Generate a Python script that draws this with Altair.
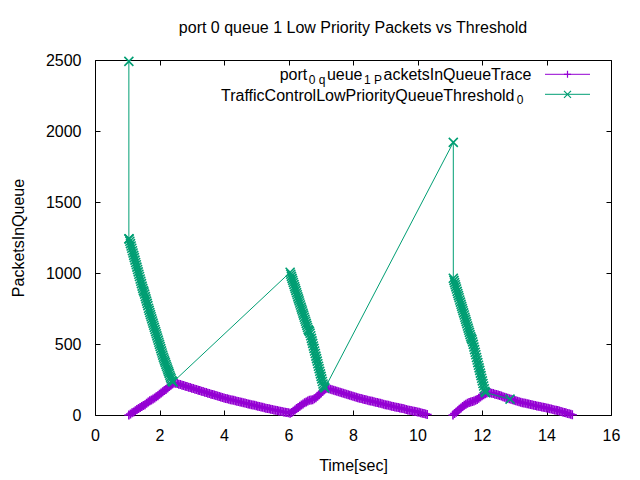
import altair as alt
import pandas as pd

FONT = "Liberation Sans"
PURPLE = "#9400d3"
GREEN = "#009e73"

TITLE = "port 0 queue 1 Low Priority Packets vs Threshold"
X_TITLE = "Time[sec]"
Y_TITLE = "PacketsInQueue"
X_TICKS = [0, 2, 4, 6, 8, 10, 12, 14, 16]
Y_TICKS = [0, 500, 1000, 1500, 2000, 2500]

# ---- port_0_queue_1_PacketsInQueueTrace: run 1 (1.05 .. 10.30 s)
q_run1_t = [1.05, 1.10, 1.15, 1.20, 1.25, 1.30, 1.35, 1.40, 1.45, 1.50, 1.55, 1.60, 1.65, 1.70,
            1.75, 1.80, 1.85, 1.90, 1.95, 2.00, 2.05, 2.10, 2.15, 2.20, 2.25, 2.30, 2.35, 2.40, 2.45,
            2.50, 2.55, 2.60, 2.65, 2.70, 2.75, 2.80, 2.85, 2.90, 2.95, 3.00, 3.05, 3.10, 3.15,
            3.20, 3.25, 3.30, 3.35, 3.40, 3.45, 3.50, 3.55, 3.60, 3.65, 3.70, 3.75, 3.80, 3.85,
            3.90, 3.95, 4.00, 4.05, 4.10, 4.15, 4.20, 4.25, 4.30, 4.35, 4.40, 4.45, 4.50, 4.55,
            4.60, 4.65, 4.70, 4.75, 4.80, 4.85, 4.90, 4.95, 5.00, 5.05, 5.10, 5.15, 5.20, 5.25,
            5.30, 5.35, 5.40, 5.45, 5.50, 5.55, 5.60, 5.65, 5.70, 5.75, 5.80, 5.85, 5.90, 5.95,
            6.00, 6.05,
            6.10, 6.15, 6.20, 6.25, 6.30, 6.35, 6.40, 6.45, 6.50, 6.55, 6.60, 6.65, 6.70, 6.75,
            6.80, 6.85, 6.90, 6.95, 7.00, 7.05, 7.10, 7.15, 7.20,
            7.25, 7.30, 7.35, 7.40, 7.45, 7.50, 7.55, 7.60, 7.65, 7.70, 7.75, 7.80, 7.85, 7.90,
            7.95, 8.00, 8.05, 8.10, 8.15, 8.20, 8.25, 8.30, 8.35, 8.40, 8.45, 8.50, 8.55, 8.60,
            8.65, 8.70, 8.75, 8.80, 8.85, 8.90, 8.95, 9.00, 9.05, 9.10, 9.15, 9.20, 9.25, 9.30,
            9.35, 9.40, 9.45, 9.50, 9.55, 9.60, 9.65, 9.70, 9.75, 9.80, 9.85, 9.90, 9.95, 10.00,
            10.05, 10.10, 10.15, 10.20, 10.25, 10.30]
q_run1_v = [0, 7, 15, 22, 30, 38, 45, 52, 59, 67, 73, 82, 92, 100,
            106, 112, 120, 128, 136, 146, 155, 164, 172, 180, 190, 200, 210, 218, 226,
            224, 221, 217, 214, 210, 207, 203, 200, 196, 193, 189, 186, 182, 179,
            175, 172, 168, 165, 161, 158, 154, 151, 147, 144, 140, 137, 133, 130,
            126, 123, 119, 117, 114, 111, 108, 106, 103, 100, 97, 95, 92, 89,
            86, 84, 81, 78, 76, 73, 70, 68, 65, 62, 59, 57, 54, 51,
            48, 46, 44, 41, 39, 36, 34, 31, 29, 26, 24, 22, 20, 17,
            15, 12,
            18, 27, 36, 45, 53, 62, 70, 78, 86, 92, 98, 104, 106, 108,
            114, 122, 132, 143, 154, 166, 176, 184, 188,
            185, 182, 178, 175, 171, 168, 164, 161, 157, 153, 150, 146, 143, 139,
            136, 132, 129, 125, 122, 118, 116, 113, 110, 107, 104, 101, 99, 96,
            93, 90, 88, 85, 82, 79, 76, 73, 71, 68, 65, 62, 60, 57,
            55, 52, 50, 47, 45, 42, 39, 36, 34, 31, 29, 26, 24, 21,
            19, 16, 13, 10, 7, 4]
# ---- run 2 (11.10 .. 14.80 s)
q_run2_t = [11.10, 11.15, 11.20, 11.25, 11.30, 11.35, 11.40, 11.45, 11.50, 11.55, 11.60, 11.65,
            11.70, 11.75, 11.80, 11.85, 11.90, 11.95, 12.00, 12.05, 12.10, 12.15, 12.20,
            12.25, 12.30, 12.35, 12.40, 12.45, 12.50, 12.55, 12.60, 12.65, 12.70, 12.75, 12.80,
            12.85, 12.90, 12.95, 13.00, 13.05, 13.10, 13.15, 13.20, 13.25, 13.30, 13.35, 13.40,
            13.45, 13.50, 13.55, 13.60, 13.65, 13.70, 13.75, 13.80, 13.85, 13.90, 13.95, 14.00,
            14.05, 14.10, 14.15, 14.20, 14.25, 14.30, 14.35, 14.40, 14.45, 14.50, 14.55, 14.60,
            14.65, 14.70, 14.75, 14.80]
q_run2_v = [0, 10, 20, 30, 40, 50, 59, 68, 76, 82, 88, 92,
            95, 99, 104, 110, 118, 126, 135, 143, 150, 155, 158,
            156, 154, 151, 147, 144, 140, 137, 133, 129, 125, 122, 118,
            115, 111, 108, 104, 100, 96, 93, 89, 87, 84, 82, 79,
            77, 74, 72, 69, 67, 64, 62, 59, 57, 54, 52, 49,
            47, 44, 42, 39, 36, 33, 31, 28, 25, 22, 18, 15,
            11, 8, 5, 2]

# ---- TrafficControlLowPriorityQueueThreshold_0
th_t = [1.05, 1.05,
        1.06, 1.08, 1.10, 1.12, 1.14, 1.16, 1.18, 1.20, 1.22, 1.24, 1.26, 1.28, 1.30, 1.32,
        1.34, 1.36, 1.38, 1.40, 1.42, 1.44, 1.46, 1.48, 1.50, 1.52, 1.54, 1.56, 1.58, 1.60,
        1.62, 1.64, 1.66, 1.68, 1.70, 1.72, 1.74, 1.76, 1.78, 1.80, 1.82, 1.84, 1.86, 1.88,
        1.90, 1.92, 1.94, 1.96, 1.98, 2.00, 2.02, 2.04, 2.06, 2.08, 2.10, 2.12, 2.14, 2.16,
        2.18, 2.20, 2.22, 2.24, 2.26, 2.28, 2.30, 2.32, 2.34, 2.36, 2.38, 2.40, 2.42,
        6.05, 6.07, 6.09, 6.11, 6.13, 6.15, 6.17, 6.19, 6.21, 6.23, 6.25, 6.27, 6.29, 6.31,
        6.33, 6.35, 6.37, 6.39, 6.41, 6.43, 6.45, 6.47, 6.49, 6.51, 6.53, 6.55, 6.57, 6.59,
        6.61, 6.63, 6.65, 6.67, 6.69, 6.71, 6.73, 6.75, 6.77, 6.79, 6.81, 6.83, 6.85, 6.87,
        6.89, 6.91, 6.93, 6.95, 6.97, 6.99, 7.01, 7.03, 7.05, 7.07, 7.09, 7.11, 7.13,
        11.11, 11.11,
        11.13, 11.15, 11.17, 11.19, 11.21, 11.23, 11.25, 11.27, 11.29, 11.31, 11.33, 11.35,
        11.37, 11.39, 11.41, 11.43, 11.45, 11.47, 11.49, 11.51, 11.53, 11.55, 11.57, 11.59,
        11.61, 11.63, 11.65, 11.67, 11.69, 11.71, 11.73, 11.75, 11.77, 11.79, 11.81, 11.83,
        11.85, 11.87, 11.89, 11.91, 11.93, 11.95, 11.97, 11.99, 12.01, 12.03, 12.05, 12.07,
        12.09, 12.11, 12.87]
th_v = [2490, 1240,
        1240, 1224, 1207, 1190, 1174, 1157, 1141, 1124, 1108, 1091, 1074, 1058, 1041, 1025,
        1008, 991, 975, 958, 942, 925, 908, 892, 876, 866, 851, 834, 818, 802,
        786, 770, 752, 737, 722, 707, 692, 677, 662, 647, 632, 617, 602, 587,
        572, 557, 542, 527, 512, 497, 482, 467, 452, 437, 422, 407, 394, 381,
        369, 356, 343, 331, 318, 305, 293, 280, 267, 255, 242, 236, 232,
        1005, 991, 976, 962, 948, 933, 919, 904, 890, 876, 861, 847, 832, 818,
        804, 789, 775, 760, 746, 732, 717, 703, 688, 674, 660, 645, 631, 616,
        602, 595, 588, 576, 558, 540, 522, 504, 486, 469, 451, 433, 415, 397,
        379, 361, 343, 326, 308, 290, 272, 254, 236, 218, 204, 196, 190,
        1920, 963,
        948, 932, 917, 902, 887, 871, 856, 841, 826, 810, 795, 780,
        765, 749, 734, 719, 704, 688, 673, 658, 643, 627, 612, 597,
        582, 566, 551, 540, 530, 515, 497, 479, 460, 442, 424, 405,
        387, 369, 350, 332, 314, 295, 277, 259, 240, 222, 204, 185,
        167, 158, 112]

LEGEND_1 = [("port", "main"), ("0 q", "sub"), ("ueue", "main"), ("1 P", "sub"),
            ("acketsInQueueTrace", "main")]
LEGEND_2 = [("TrafficControlLowPriorityQueueThreshold", "main"), ("0", "sub")]

# ---------------------------------------------------------------- tables
queue_df = pd.DataFrame({
    "t": q_run1_t + q_run2_t,
    "v": q_run1_v + q_run2_v,
    "run": [1] * len(q_run1_t) + [2] * len(q_run2_t),
})
queue_df["i"] = range(len(queue_df))
th_df = pd.DataFrame({"t": th_t, "v": th_v})
th_df["i"] = range(len(th_df))

PLUS = "M-1,0L1,0M0,-1L0,1"
CROSS = "M-1,-1L1,1M-1,1L1,-1"
W, H = 516, 355
MSIZE = 81

xs = alt.Scale(domain=[0, 16], nice=False, zero=False)
ys = alt.Scale(domain=[0, 2500], nice=False)

common = dict(offset=-5, tickSize=5, domain=False, grid=False, labelFlush=False,
              labelOverlap=False, labelBound=False)
x_bottom = alt.Axis(orient="bottom", values=X_TICKS, title=X_TITLE, labelPadding=20,
                    labelBaseline="middle", format="d",
                    titleX=W / 2, titleY=55, titleAlign="center", titleBaseline="middle", **common)
y_left = alt.Axis(orient="left", values=Y_TICKS, title=Y_TITLE, labelPadding=14, format="d",
                  titleX=-82, titleY=H / 2, titleAngle=270, titleAlign="center",
                  titleBaseline="middle", **common)
x_top = alt.Axis(orient="top", values=X_TICKS, title=None, labels=False, **common)
y_right = alt.Axis(orient="right", values=Y_TICKS, title=None, labels=False, **common)

frame = alt.Chart(queue_df).mark_point(opacity=0).encode(
    x=alt.X("t:Q", scale=xs, axis=x_bottom), y=alt.Y("v:Q", scale=ys, axis=y_left))
mirror = alt.Chart(queue_df).mark_point(opacity=0).encode(
    x=alt.X("t:Q", scale=xs, axis=x_top), y=alt.Y("v:Q", scale=ys, axis=y_right))

def series(df, color, shape, detail=None):
    enc = dict(x=alt.X("t:Q", scale=xs, axis=None), y=alt.Y("v:Q", scale=ys, axis=None),
               order=alt.Order("i:Q"))
    if detail:
        enc["detail"] = detail
    line = alt.Chart(df).mark_line(color=color, strokeWidth=1).encode(**enc)
    pts = alt.Chart(df).mark_point(shape=shape, filled=False, color=color, size=MSIZE,
                                   strokeWidth=1.6, opacity=1).encode(
        x=alt.X("t:Q", scale=xs, axis=None), y=alt.Y("v:Q", scale=ys, axis=None))
    return [line, pts]

# ---------------------------------------------------------------- legend
CW = {"P": 667, "a": 556, "c": 500, "k": 500, "e": 556, "t": 278, "s": 500, "I": 278,
      "n": 556, "Q": 778, "u": 556, "T": 611, "r": 333, "o": 556, "p": 556, "q": 556,
      "f": 278, "i": 222, "C": 722, "l": 222, "L": 556, "w": 722, "y": 500, "h": 556,
      "d": 556, "0": 556, "1": 556, " ": 278}
SIZES = {"main": 16, "sub": 12}

def text_w(s, size):
    return sum(CW.get(ch, 556) for ch in s) * size / 1000.0

one = pd.DataFrame({"k": [0]})

def legend_line(pieces, right, base_y):
    gap = 1.5
    total = sum(text_w(s, SIZES[k]) for s, k in pieces) + gap * 2 * sum(1 for _, k in pieces if k == "sub")
    x = right - total
    layers = []
    for s, k in pieces:
        if k == "sub":
            x += gap
        layers.append(alt.Chart(one).mark_text(align="left", baseline="alphabetic", font=FONT,
                                               fontSize=SIZES[k], color="black").encode(
            x=alt.value(x), y=alt.value(base_y + (3.5 if k == "sub" else 0)), text=alt.value(s)))
        x += text_w(s, SIZES[k])
        if k == "sub":
            x += gap
    return layers

def legend_sample(color, shape, y):
    rule = alt.Chart(one).mark_rule(color=color, strokeWidth=1).encode(
        x=alt.value(450), x2=alt.value(495), y=alt.value(y))
    mk = alt.Chart(one).mark_point(shape=shape, filled=False, color=color, size=49,
                                   strokeWidth=1.2, opacity=1).encode(
        x=alt.value(472.5), y=alt.value(y))
    return [rule, mk]

layers = [frame, mirror]
layers += series(queue_df, PURPLE, PLUS, detail="run:N")
layers += series(th_df, GREEN, CROSS)
layers += legend_line(LEGEND_1, 437, 20)
layers += legend_sample(PURPLE, PLUS, 14.3)
layers += legend_line(LEGEND_2, 430, 40.5)
layers += legend_sample(GREEN, CROSS, 34.3)

chart = alt.layer(*layers).resolve_axis(x="independent", y="independent").properties(
    width=W, height=H,
    title=alt.TitleParams(TITLE, font=FONT, fontSize=16, fontWeight="normal", color="black",
                          frame="group", anchor="middle", baseline="middle", offset=8),
    autosize=alt.AutoSizeParams(type="none"),
    padding={"left": 87, "top": 52, "right": 21, "bottom": 64},
    background="white",
).configure_view(stroke="black", strokeWidth=1).configure_axis(
    labelFont=FONT, labelFontSize=16, labelColor="black", tickColor="black", tickWidth=1,
    titleFont=FONT, titleFontSize=16, titleFontWeight="normal", titleColor="black",
)

chart.save("out.html", embed_options={"renderer": "svg", "actions": False})
